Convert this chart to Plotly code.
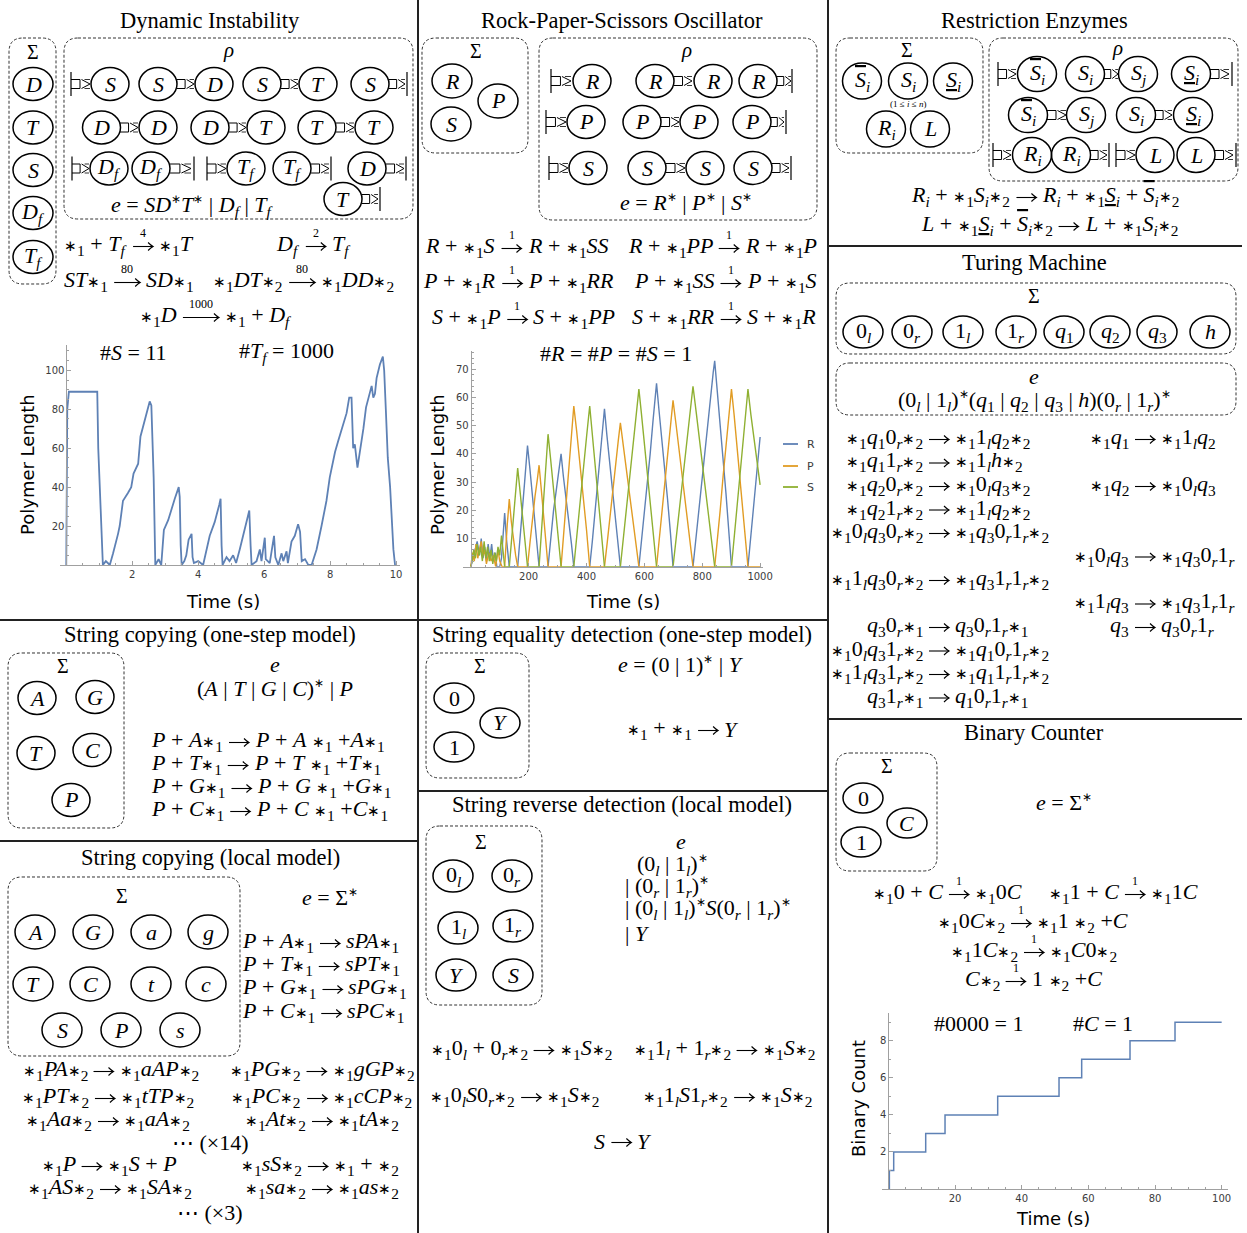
import re
import plotly.graph_objects as go

W, H = 1247, 1233
FIG_W = 1257
SERIF = "Liberation Serif"
SANS = "DejaVu Sans"
MS = 22
BLUE, ORANGE, GREEN = "#5E81B5", "#E19C24", "#8FB032"
AXC, TKC = "#a0a0a0", "#3c3c3c"

# ---------------- data ----------------
di_time = [0, 0.03, 0.08, 0.94, 0.97, 1.0, 1.05, 1.11, 1.2, 1.32,
           1.42, 1.52, 1.57, 1.62, 1.72, 1.87, 1.97, 2.04, 2.18, 2.25,
           2.38, 2.45, 2.53, 2.58, 2.61, 2.65, 2.70, 2.8, 2.88, 2.96,
           3.09, 3.19, 3.29, 3.41, 3.44, 3.47, 3.50, 3.58, 3.64, 3.71,
           3.80, 3.83, 3.87, 4.0, 4.15, 4.35, 4.50, 4.64, 4.68, 4.71,
           4.74, 4.86, 4.95, 5.06, 5.15, 5.26, 5.41, 5.55, 5.59, 5.62,
           5.77, 5.87, 5.92, 6.02, 6.05, 6.17, 6.30, 6.34, 6.43, 6.53,
           6.58, 6.68, 6.72, 6.83, 6.93, 7.03, 7.09, 7.14, 7.24, 7.34,
           7.44, 7.59, 7.74, 7.89, 7.99, 8.15, 8.25, 8.40, 8.50, 8.58,
           8.65, 8.70, 8.75, 8.83, 8.91, 9.01, 9.09, 9.19, 9.26, 9.31,
           9.36, 9.41, 9.51, 9.60, 9.64, 9.69, 9.75, 9.82, 9.87, 9.92,
           9.97]
di_length = [0, 80, 89, 89, 60, 45, 30, 0, 2, 0,
             6, 12, 16, 20, 33, 37, 40, 47, 52, 66,
             74, 78, 84, 82, 65, 45, 0, 3, 0, 18,
             23, 29, 34, 40, 35, 10, 0, 2, 5, 13,
             16, 4, 1, 2, 0, 15, 22, 31, 34, 10,
             0, 4, 2, 5, 1, 8, 19, 28, 10, 0,
             2, 8, 2, 14, 3, 1, 15, 4, 0, 6,
             2, 7, 1, 12, 15, 21, 17, 2, 3, 0,
             0, 8, 20, 33, 45, 58, 64, 73, 78, 86,
             86, 60, 62, 50, 58, 70, 81, 88, 92, 86,
             88, 96, 103, 107, 100, 80, 55, 40, 25, 8,
             0]

rps_time_R = [0, 8, 15, 22, 30, 36, 42, 48, 54, 60, 66, 72, 78, 84, 90, 100,
              106, 112, 117, 124, 133, 162, 170, 178, 186, 192, 196,
              204, 214, 222, 230, 236, 267, 276, 286, 294, 304, 312,
              320, 330, 340, 348, 356, 411, 420, 430, 440, 450, 456, 462,
              470, 480, 490, 500, 508, 517, 581, 590, 600, 610, 620, 630, 636, 642,
              650, 660, 670, 680, 690, 699, 768, 778, 790, 800, 812, 822, 832, 838, 843,
              852, 862, 872, 882, 892, 901, 958, 966, 975, 985, 993, 1000]
rps_R = [0, 3, 6, 9, 4, 10, 3, 7, 2, 8, 3, 8, 2, 5, 0, 0,
         3, 12, 19, 9, 0, 0, 9, 20, 30, 38, 43,
         35, 24, 17, 7, 0, 0, 10, 20, 26, 35, 40,
         32, 24, 16, 8, 0, 0, 9, 20, 32, 42, 50, 56,
         47, 37, 28, 18, 10, 0, 0, 9, 19, 29, 40, 52, 58, 65,
         56, 46, 36, 24, 12, 0, 0, 10, 22, 33, 45, 55, 63, 69, 73,
         63, 50, 38, 26, 13, 0, 0, 9, 18, 29, 38, 46]
rps_time_P = [0, 6, 12, 18, 24, 30, 36, 42, 48, 54, 62, 70, 78, 86, 94, 100, 108, 117,
              121, 126, 130, 133, 140, 148, 155, 162, 196, 205, 214, 222, 230, 236,
              244, 252, 260, 267, 312, 320, 330, 340, 348, 356, 366, 378, 390, 400, 411,
              462, 472, 482, 492, 502, 510, 517, 528, 540, 552, 562, 572, 581,
              642, 652, 662, 672, 682, 692, 699, 710, 722, 734, 746, 758, 768,
              843, 852, 862, 872, 882, 892, 901, 910, 920, 930, 940, 950, 958, 1000]
rps_P = [0, 5, 2, 8, 3, 6, 9, 4, 6, 1, 5, 2, 4, 0, 6, 2, 0, 0,
         8, 15, 20, 24, 16, 9, 4, 0, 0, 9, 18, 25, 31, 36,
         27, 18, 9, 0, 0, 10, 22, 35, 46, 57, 48, 36, 24, 13, 0,
         0, 9, 19, 29, 38, 45, 51, 42, 33, 24, 15, 7, 0,
         0, 10, 21, 32, 42, 52, 59, 50, 40, 29, 18, 8, 0,
         0, 9, 20, 32, 43, 54, 63, 54, 43, 33, 21, 10, 0, 0]
rps_time_S = [0, 5, 10, 16, 22, 28, 34, 40, 46, 52, 58, 64, 70, 76, 82, 88, 94, 100, 106, 112, 117, 133,
              140, 148, 155, 162, 170, 178, 188, 196, 236, 243, 250, 256, 262, 267,
              276, 286, 296, 304, 312, 356, 366, 378, 390, 400, 411, 420, 430, 440, 450, 462,
              517, 528, 540, 552, 562, 572, 581, 590, 600, 612, 622, 632, 642,
              699, 710, 722, 734, 746, 758, 768, 780, 792, 804, 816, 830, 843,
              901, 910, 920, 930, 940, 950, 958, 968, 978, 988, 1000]
rps_S = [0, 2, 6, 3, 8, 4, 7, 2, 9, 3, 7, 2, 6, 1, 5, 2, 7, 4, 11, 5, 0, 0,
         8, 17, 27, 35, 27, 19, 9, 0, 0, 10, 21, 30, 40, 47,
         38, 28, 18, 9, 0, 0, 11, 23, 35, 46, 57, 47, 36, 25, 14, 0,
         0, 11, 23, 36, 46, 55, 63, 54, 44, 31, 21, 11, 0,
         0, 10, 21, 33, 44, 55, 64, 54, 44, 33, 23, 12, 0,
         0, 10, 20, 31, 42, 53, 63, 54, 46, 37, 29]
rps_series = ["R", "P", "S"]

bc_time = [0, 0.3, 1.6, 11.2, 17.0, 32.8, 51.2, 58.0, 72.5, 86.0, 100]
bc_count = [0, 1, 2, 3, 4, 5, 6, 7, 8, 9, 9]

di_xticks = [2, 4, 6, 8, 10]
di_yticks = [20, 40, 60, 80, 100]
rps_xticks = [200, 400, 600, 800, 1000]
rps_yticks = [10, 20, 30, 40, 50, 60, 70]
bc_xticks = [20, 40, 60, 80, 100]
bc_yticks = [2, 4, 6, 8]

# ---------------- drawing helpers ----------------
ann, shp = [], []


def X(p):
    return p / W


def Y(p):
    return 1 - p / H


def text(x, y, s, size=MS, anchor="center", family=SERIF, color="black", angle=0):
    ann.append(dict(x=X(x), y=Y(y), xref="paper", yref="paper", text=s, showarrow=False,
                    xanchor=anchor, yanchor="middle", textangle=angle,
                    font=dict(family=family, size=size, color=color)))


CW = {'A': .611, 'B': .611, 'C': .667, 'D': .722, 'E': .611, 'F': .611, 'G': .722, 'H': .722, 'I': .333,
      'L': .556, 'M': .833, 'N': .667, 'P': .611, 'R': .611, 'S': .5, 'T': .556, 'Y': .556,
      'a': .5, 'c': .444, 'e': .444, 'f': .278, 'g': .5, 'h': .5, 'i': .278, 'j': .278, 'l': .278,
      'n': .5, 'q': .5, 'r': .389, 's': .389, 't': .278, ' ': .25, '\u00a0': .25, '+': .675, '=': .675,
      '|': .2, '(': .333, ')': .333, '#': .5, 'Σ': .6, '⋯': 1.0, '×': .564, '∗': .838}


def est_width(html, size):
    w, stack = 0.0, [size]
    for tok in re.findall(r'<[^>]+>|[^<]', html):
        if tok.startswith('</'):
            if len(stack) > 1:
                stack.pop()
        elif tok.startswith('<'):
            cur = stack[-1]
            m = re.search(r'font-size:\s*([\d.]+)px', tok)
            if tok.startswith('<sub') or tok.startswith('<sup'):
                cur = cur * 0.7
            elif m:
                cur = float(m.group(1))
            stack.append(cur)
        else:
            w += CW.get(tok, 0.5) * stack[-1]
    return w


def pstr(cmds):
    out = []
    for c in cmds:
        k, nums = c[0], c[1:]
        pts = [f"{X(nums[i]):.5f},{Y(nums[i + 1]):.5f}" for i in range(0, len(nums), 2)]
        out.append(k + " ".join(pts))
    return " ".join(out)


def path(cmds, width=1.2, color="black", dash="solid"):
    shp.append(dict(type="path", xref="paper", yref="paper", path=pstr(cmds),
                    line=dict(color=color, width=width, dash=dash)))


def line(x0, y0, x1, y1, width=1.2, color="black"):
    shp.append(dict(type="line", xref="paper", yref="paper", x0=X(x0), y0=Y(y0), x1=X(x1), y1=Y(y1),
                    line=dict(color=color, width=width)))


def rbox(x0, y0, x1, y1, r=13):
    path([("M", x0 + r, y0), ("L", x1 - r, y0), ("Q", x1, y0, x1, y0 + r), ("L", x1, y1 - r),
          ("Q", x1, y1, x1 - r, y1), ("L", x0 + r, y1), ("Q", x0, y1, x0, y1 - r), ("L", x0, y0 + r),
          ("Q", x0, y0, x0 + r, y0), ("Z",)], width=1, color="#333333", dash="3px,2px")


def circ(x, y, label, rx=19, ry=16.5, size=MS):
    shp.append(dict(type="circle", xref="paper", yref="paper", x0=X(x - rx), x1=X(x + rx),
                    y0=Y(y + ry), y1=Y(y - ry), line=dict(color="black", width=1.5)))
    text(x, y, label, size)


def cap(x, y, h=12):
    line(x, y - h, x, y + h, 1.2)


def link(xa, xb, y):
    m = xa + (xb - xa) * 0.45
    path([("M", xa, y - 4.5), ("L", m, y - 4.5), ("L", m, y + 4.5), ("L", xa, y + 4.5)], 1.0)
    path([("M", m + 1.5, y - 4.5), ("L", xb - 1, y), ("L", m + 1.5, y + 4.5)], 1.0)
    path([("M", m + 4.5, y - 4.5), ("L", xb - 1, y - 4.5), ("M", m + 4.5, y + 4.5), ("L", xb - 1, y + 4.5)], 0.8)


def arrow(x0, x1, y):
    path([("M", x0, y), ("L", x1, y)], 1.1)
    path([("M", x1 - 5, y - 4), ("Q", x1 - 2, y - 1, x1, y), ("Q", x1 - 2, y + 1, x1 - 5, y + 4)], 1.1)


def rxn(y, left, right, label=None, center=None, start=None, ax_=None, w=20, size=MS, gap=4):
    wl, wr = est_width(left, size), est_width(right, size)
    if ax_ is None:
        total = wl + wr + w + 2 * gap
        s = center - total / 2 if center is not None else start
        ax_ = s + wl + gap + w / 2
    text(ax_ - w / 2 - gap, y, left, size, "right")
    text(ax_ + w / 2 + gap, y, right, size, "left")
    arrow(ax_ - w / 2, ax_ + w / 2, y + 1.5)
    if label:
        text(ax_, y - 12, label, 12)


def I(s):
    return f"<i>{s}</i>"


AST = '<span style="font-size:15px">∗</span>'
s1 = AST + "<sub>1</sub>"
s2 = AST + "<sub>2</sub>"
st = '<sup><span style="font-size:12px">∗</span></sup>'
Df = "<i>D</i><sub><i>f</i></sub>"
Tf = "<i>T</i><sub><i>f</i></sub>"
Si = "<i>S</i><sub><i>i</i></sub>"
Sj = "<i>S</i><sub><i>j</i></sub>"
Sbar = '<span style="text-decoration:overline"><i>S</i></span><sub><i>i</i></sub>'
Sund = '<span style="text-decoration:underline"><i>S</i></span><sub><i>i</i></sub>'
Ri = "<i>R</i><sub><i>i</i></sub>"
l_ = "<sub><i>l</i></sub>"
r_ = "<sub><i>r</i></sub>"
q1, q2, q3 = "<i>q</i><sub>1</sub>", "<i>q</i><sub>2</sub>", "<i>q</i><sub>3</sub>"
TS = 22.5

# ---------------- panel dividers ----------------
line(418, 0, 418, H, 2, "#222")
line(828, 0, 828, H, 2, "#222")
line(0, 620, 828, 620, 2, "#222")
line(0, 841, 418, 841, 2, "#222")
line(418, 791, 828, 791, 2, "#222")
line(828, 246, 1242, 246, 2, "#222")
line(828, 719, 1242, 719, 2, "#222")

# ---------------- Dynamic Instability ----------------
text(210, 20, "Dynamic Instability", TS)
rbox(9, 38, 56, 284, 14)
text(33, 52, "Σ", 20)
for lab, yy in [(I("D"), 84), (I("T"), 127.5), (I("S"), 170), (Df, 213), (Tf, 257)]:
    circ(33, yy, lab, 20, 16.5)
rbox(64, 38, 413, 219, 14)
text(228, 50, I("ρ"), 21)
cap(71, 84); link(71, 91, 84)
for xx, lab in [(110, "S"), (158, "S"), (214, "D"), (262, "S"), (318, "T"), (370, "S")]:
    circ(xx, 84, I(lab))
link(177, 195, 84); link(281, 299, 84); link(389, 406, 84); cap(407, 84)
for xx, lab in [(101.5, "D"), (158, "D"), (210, "D"), (266, "T"), (317, "T"), (374, "T")]:
    circ(xx, 127.5, I(lab))
link(120, 139, 127.5); link(229, 247, 127.5); link(336, 355, 127.5)
cap(72, 168.5); link(72, 90, 168.5)
circ(109, 168.5, Df); circ(151, 168.5, Df); link(170, 192, 168.5); cap(194, 168.5)
cap(207, 168.5); link(207, 227, 168.5)
circ(246, 168.5, Tf); circ(292, 168.5, Tf); link(311, 330, 168.5); cap(331, 168.5)
circ(367, 168.5, I("D")); link(386, 405, 168.5); cap(406, 168.5)
circ(343, 199, I("T")); link(362, 379, 199); cap(380, 199)
text(192, 206, f"{I('e')} = {I('SD')}{st}{I('T')}{st} | {Df} | {Tf}", MS)
rxn(245, f"{s1} + {Tf}", f"{s1}{I('T')}", "4", center=128)
rxn(245, Df, Tf, "2", center=314)
rxn(281, f"{I('ST')}{s1}", f"{I('SD')}{s1}", "80", center=129, w=26)
rxn(281, f"{s1}{I('DT')}{s2}", f"{s1}{I('DD')}{s2}", "80", center=304, w=26)
rxn(316, f"{s1}{I('D')}", f"{s1} + {Df}", "1000", center=216, w=36)
text(133, 352, f"#{I('S')} = 11", MS)
text(286, 352, f"#{Tf} = 1000", MS)
text(27, 465, "Polymer Length", 18, family=SANS, angle=-90)
text(223, 601, "Time (s)", 18, family=SANS)

# ---------------- Rock-Paper-Scissors ----------------
text(622, 20, "Rock-Paper-Scissors Oscillator", TS)
rbox(422, 38, 528, 153, 14)
text(476, 51, "Σ", 20)
circ(452, 81, I("R"), 20, 17); circ(498, 101, I("P"), 20, 17); circ(451, 124, I("S"), 20, 17)
rbox(539, 38, 817, 220, 14)
text(686, 50, I("ρ"), 21)
cap(551, 81); link(551, 572, 81)
for xx in [592, 655, 713, 758]:
    circ(xx, 81, I("R"))
link(674, 693, 81); link(777, 792, 81); cap(792, 81)
cap(546, 122); link(546, 567, 122)
for xx in [586, 642, 699, 752]:
    circ(xx, 122, I("P"))
link(661, 680, 122); link(771, 785, 122); cap(786, 122)
cap(549, 168); link(549, 569, 168)
for xx in [588, 647, 705, 753]:
    circ(xx, 168, I("S"))
link(666, 686, 168); link(772, 790, 168); cap(791, 168)
text(686, 203, f"{I('e')} = {I('R')}{st} | {I('P')}{st} | {I('S')}{st}", MS)
rxn(247, f"{I('R')} + {s1}{I('S')}", f"{I('R')} + {s1}{I('SS')}", "1", center=517)
rxn(247, f"{I('R')} + {s1}{I('PP')}", f"{I('R')} + {s1}{I('P')}", "1", center=722)
rxn(282, f"{I('P')} + {s1}{I('R')}", f"{I('P')} + {s1}{I('RR')}", "1", center=519)
rxn(282, f"{I('P')} + {s1}{I('SS')}", f"{I('P')} + {s1}{I('S')}", "1", center=725)
rxn(318, f"{I('S')} + {s1}{I('P')}", f"{I('S')} + {s1}{I('PP')}", "1", center=524)
rxn(318, f"{I('S')} + {s1}{I('RR')}", f"{I('S')} + {s1}{I('R')}", "1", center=724)
text(616, 353, f"#{I('R')} = #{I('P')} = #{I('S')} = 1", MS)
text(437, 465, "Polymer Length", 18, family=SANS, angle=-90)
text(623, 601, "Time (s)", 18, family=SANS)
for yy, col, lab in [(444, BLUE, rps_series[0]), (466, ORANGE, rps_series[1]), (487, GREEN, rps_series[2])]:
    line(783, yy, 798, yy, 1.8, col)
    text(805, yy, lab, 11, "left", SANS, TKC)

# ---------------- Restriction Enzymes ----------------
text(1034, 20, "Restriction Enzymes", TS)
rbox(836, 38, 983, 153, 14)
text(907, 50, "Σ", 20)
circ(862, 81, Sbar, 19.5, 18); circ(908, 81, Si, 19.5, 18); circ(953, 81, Sund, 19.5, 18)
text(908, 104, f"(1 ≤ {I('i')} ≤ {I('n')})", 9)
circ(886, 129, Ri, 19.5, 18); circ(930, 129, I("L"), 19.5, 18)
rbox(989, 38, 1238, 181, 14)
text(1117, 48, I("ρ"), 21)
cap(998, 74); link(998, 1017, 74); circ(1037, 74, Sbar, 19.5, 17.5)
circ(1085, 74, Si, 19.5, 17.5); link(1104, 1119, 74); circ(1138, 74, Sj, 19.5, 17.5)
circ(1191, 74, Sund, 19.5, 17.5); link(1210, 1230, 74); cap(1232, 74)
circ(1028, 115, Sbar, 19.5, 17.5); link(1047, 1067, 115); circ(1086, 115, Sj, 19.5, 17.5)
circ(1136, 115, Si, 19.5, 17.5); link(1155, 1173, 115); circ(1193, 115, Sund, 19.5, 17.5)
cap(993, 155); link(993, 1012, 155); circ(1032, 155, Ri, 19.5, 17.5); circ(1071, 155, Ri, 19.5, 17.5)
link(1090, 1108, 155); cap(1109, 155)
cap(1116, 155); link(1116, 1136, 155); circ(1155, 155, I("L"), 19, 17.5); circ(1196, 155, I("L"), 19, 17.5)
link(1215, 1234, 155); cap(1236, 155)
rxn(196, f"{Ri} + {s1}{Si}{s2}", f"{Ri} + {s1}{Sund} + {Sbar}{s2}", center=1047)
rxn(225, f"{I('L')} + {s1}{Sund} + {Sbar}{s2}", f"{I('L')} + {s1}{Si}{s2}", center=1048)

# ---------------- Turing Machine ----------------
text(1034, 262, "Turing Machine", TS)
rbox(836, 283, 1236, 354, 14)
text(1034, 296, "Σ", 20)
for xx, lab in zip([863, 912, 963, 1016, 1064, 1110, 1157, 1210],
                   ["0" + l_, "0" + r_, "1" + l_, "1" + r_, q1, q2, q3, I("h")]):
    circ(xx, 332, lab, 20, 16)
rbox(836, 363, 1236, 415, 14)
text(1034, 376, I("e"), MS)
text(1034, 401, f"(0{l_} | 1{l_}){st}({q1} | {q2} | {q3} | {I('h')})(0{r_} | 1{r_}){st}", MS)
TL, TR = 939, 1145
tm_left = [
    (438, f"{s1}{q1}0{r_}{s2}", f"{s1}1{l_}{q2}{s2}"),
    (461.5, f"{s1}{q1}1{r_}{s2}", f"{s1}1{l_}{I('h')}{s2}"),
    (485, f"{s1}{q2}0{r_}{s2}", f"{s1}0{l_}{q3}{s2}"),
    (508.5, f"{s1}{q2}1{r_}{s2}", f"{s1}1{l_}{q2}{s2}"),
    (532, f"{s1}0{l_}{q3}0{r_}{s2}", f"{s1}{q3}0{r_}1{r_}{s2}"),
    (579, f"{s1}1{l_}{q3}0{r_}{s2}", f"{s1}{q3}1{r_}1{r_}{s2}"),
    (626, f"{q3}0{r_}{s1}", f"{q3}0{r_}1{r_}{s1}"),
    (649.5, f"{s1}0{l_}{q3}1{r_}{s2}", f"{s1}{q1}0{r_}1{r_}{s2}"),
    (673, f"{s1}1{l_}{q3}1{r_}{s2}", f"{s1}{q1}1{r_}1{r_}{s2}"),
    (696.5, f"{q3}1{r_}{s1}", f"{q1}0{r_}1{r_}{s1}"),
]
for yy, a, b in tm_left:
    rxn(yy, a, b, ax_=TL)
tm_right = [
    (438, f"{s1}{q1}", f"{s1}1{l_}{q2}"),
    (485, f"{s1}{q2}", f"{s1}0{l_}{q3}"),
    (555.5, f"{s1}0{l_}{q3}", f"{s1}{q3}0{r_}1{r_}"),
    (602.5, f"{s1}1{l_}{q3}", f"{s1}{q3}1{r_}1{r_}"),
    (626, f"{q3}", f"{q3}0{r_}1{r_}"),
]
for yy, a, b in tm_right:
    rxn(yy, a, b, ax_=TR)

# ---------------- Binary Counter ----------------
text(1034, 732, "Binary Counter", TS)
rbox(836, 753, 937, 871, 14)
text(887, 766, "Σ", 20)
circ(863, 798, "0", 20, 15); circ(907, 823, I("C"), 20, 15); circ(861, 842, "1", 20, 15)
text(1064, 802, f"{I('e')} = Σ{st}", MS)
rxn(893, f"{s1}0 + {I('C')}", f"{s1}0{I('C')}", "1", center=946)
rxn(893, f"{s1}1 + {I('C')}", f"{s1}1{I('C')}", "1", center=1122)
rxn(922, f"{s1}0{I('C')}{s2}", f"{s1}1 {s2} +{I('C')}", "1", center=1034)
rxn(951, f"{s1}1{I('C')}{s2}", f"{s1}{I('C')}0{s2}", "1", center=1034)
rxn(980, f"{I('C')}{s2}", f"1 {s2} +{I('C')}", "1", center=1034)
text(978, 1023, "#0000 = 1", MS)
text(1103, 1023, f"#{I('C')} = 1", MS)
text(858, 1099, "Binary Count", 18, family=SANS, angle=-90)
text(1053, 1218, "Time (s)", 18, family=SANS)

# ---------------- String copying (one-step) ----------------
text(210, 634, "String copying (one-step model)", TS)
rbox(8, 653, 124, 828, 14)
text(63, 666, "Σ", 20)
for xx, yy, lab in [(37, 698, "A"), (95, 697, "G"), (36, 753, "T"), (92, 750, "C"), (71, 800, "P")]:
    circ(xx, yy, I(lab))
text(275, 664, I("e"), MS)
text(275, 688, f"({I('A')} | {I('T')} | {I('G')} | {I('C')}){st} | {I('P')}", MS)
for yy, b in zip([741, 764, 787, 810], ["A", "T", "G", "C"]):
    rxn(yy, f"{I('P')} + {I(b)}{s1}", f"{I('P')} + {I(b)} {s1} +{I(b)}{s1}", start=152)

# ---------------- String copying (local) ----------------
text(210, 857, "String copying (local model)", TS)
rbox(8, 877, 240, 1056, 14)
text(122, 896, "Σ", 20)
for xx, yy, lab in [(35, 932, "A"), (93, 932, "G"), (151, 932, "a"), (208, 932, "g"),
                    (33, 984, "T"), (90, 984, "C"), (151, 984, "t"), (206, 984, "c"),
                    (62, 1030, "S"), (121, 1030, "P"), (180, 1030, "s")]:
    circ(xx, yy, I(lab), 20, 17)
text(330, 897, f"{I('e')} = Σ{st}", MS)
for yy, b in zip([942, 965, 988, 1012], ["A", "T", "G", "C"]):
    rxn(yy, f"{I('P')} + {I(b)}{s1}", f"{I('sP' + b)}{s1}", start=243)
rxn(1070, f"{s1}{I('PA')}{s2}", f"{s1}{I('aAP')}{s2}", center=109)
rxn(1070, f"{s1}{I('PG')}{s2}", f"{s1}{I('gGP')}{s2}", center=322)
rxn(1097, f"{s1}{I('PT')}{s2}", f"{s1}{I('tTP')}{s2}", center=108)
rxn(1097, f"{s1}{I('PC')}{s2}", f"{s1}{I('cCP')}{s2}", center=322)
rxn(1120, f"{s1}{I('Aa')}{s2}", f"{s1}{I('aA')}{s2}", center=108)
rxn(1120, f"{s1}{I('At')}{s2}", f"{s1}{I('tA')}{s2}", center=322)
text(210, 1142, "⋯ (×14)", MS)
rxn(1165, f"{s1}{I('P')}", f"{s1}{I('S')} + {I('P')}", center=110)
rxn(1165, f"{s1}{I('sS')}{s2}", f"{s1} + {s2}", center=321)
rxn(1188, f"{s1}{I('AS')}{s2}", f"{s1}{I('SA')}{s2}", center=110)
rxn(1188, f"{s1}{I('sa')}{s2}", f"{s1}{I('as')}{s2}", center=322)
text(210, 1212, "⋯ (×3)", MS)

# ---------------- String equality detection ----------------
text(622, 634, "String equality detection (one-step model)", TS)
rbox(426, 653, 529, 778, 14)
text(480, 666, "Σ", 20)
circ(454, 698, "0", 20, 15); circ(500, 723, I("Y"), 20, 15); circ(454, 747, "1", 20, 15)
text(681, 664, f"{I('e')} = (0 | 1){st} | {I('Y')}", MS)
rxn(729, f"{s1} + {s1}", I("Y"), center=681)

# ---------------- String reverse detection ----------------
text(622, 804, "String reverse detection (local model)", TS)
rbox(426, 826, 542, 1005, 14)
text(481, 842, "Σ", 20)
for xx, yy, lab in [(453, 876, "0" + l_), (512, 876, "0" + r_), (458, 928, "1" + l_), (513, 926, "1" + r_),
                    (456, 975, I("Y")), (513, 975, I("S"))]:
    circ(xx, yy, lab, 20, 16)
text(681, 841, I("e"), MS)
text(635, 865, f"(0{l_} | 1{l_}){st}", MS, "left")
text(623, 887, f"| (0{r_} | 1{r_}){st}", MS, "left")
text(623, 909, f"| (0{l_} | 1{l_}){st}{I('S')}(0{r_} | 1{r_}){st}", MS, "left")
text(623, 933, f"| {I('Y')}", MS, "left")
rxn(1049, f"{s1}0{l_} + 0{r_}{s2}", f"{s1}{I('S')}{s2}", center=520)
rxn(1049, f"{s1}1{l_} + 1{r_}{s2}", f"{s1}{I('S')}{s2}", center=723)
rxn(1096, f"{s1}0{l_}{I('S')}0{r_}{s2}", f"{s1}{I('S')}{s2}", center=515)
rxn(1096, f"{s1}1{l_}{I('S')}1{r_}{s2}", f"{s1}{I('S')}{s2}", center=728)
rxn(1141, I("S"), I("Y"), center=622)

# ---------------- plots ----------------
fig = go.Figure()
fig.add_trace(go.Scatter(x=di_time, y=di_length, mode="lines", line=dict(color=BLUE, width=1.8),
                         xaxis="x", yaxis="y", showlegend=False))
for tt, vv, col in [(rps_time_R, rps_R, BLUE), (rps_time_P, rps_P, ORANGE), (rps_time_S, rps_S, GREEN)]:
    fig.add_trace(go.Scatter(x=tt, y=vv, mode="lines", line=dict(color=col, width=1.4),
                             xaxis="x2", yaxis="y2", showlegend=False))
fig.add_trace(go.Scatter(x=bc_time, y=bc_count, mode="lines", line=dict(color=BLUE, width=1.5, shape="hv"),
                         xaxis="x3", yaxis="y3", showlegend=False))


def minor_vals(lo, hi, step, majors):
    vals, v = [], lo
    while v <= hi + 1e-9:
        if all(abs(v - m) > 1e-6 for m in majors):
            vals.append(round(v, 6))
        v += step
    return vals


def ax(domain, rng, ticks, minors, **kw):
    d = dict(domain=domain, range=rng, showline=True, linecolor=AXC, linewidth=1, ticks="inside",
             ticklen=4, tickcolor=AXC, tickwidth=1, tickmode="array", tickvals=ticks,
             tickfont=dict(family=SANS, size=10, color=TKC), showgrid=False, zeroline=False,
             minor=dict(ticks="inside", ticklen=2, tickcolor=AXC, tickmode="array", tickvals=minors,
                        showgrid=False), fixedrange=True)
    d.update(kw)
    return d


fig.update_layout(
    width=FIG_W, height=H, margin=dict(l=0, r=0, t=0, b=0), autosize=False,
    paper_bgcolor="white", plot_bgcolor="rgba(0,0,0,0)", showlegend=False,
    xaxis=ax([X(60), X(400)], [-0.19, 10.12], di_xticks, minor_vals(0, 10, 0.5, di_xticks + [0]), anchor="y"),
    yaxis=ax([Y(565), Y(345)], [0, 113], di_yticks, minor_vals(0, 110, 5, di_yticks + [0]),
             anchor="free", position=X(66.4)),
    xaxis2=ax([X(463), X(763)], [-27, 1010], rps_xticks, minor_vals(0, 1000, 50, rps_xticks + [0]),
              anchor="y2"),
    yaxis2=ax([Y(566.7), Y(351)], [0, 76.5], rps_yticks, minor_vals(0, 76, 2, rps_yticks + [0]),
              anchor="free", position=X(470.7)),
    xaxis3=ax([X(881.7), X(1228)], [-2, 101.9], bc_xticks, minor_vals(0, 100, 5, bc_xticks + [0]),
              anchor="y3"),
    yaxis3=ax([Y(1189), Y(1013)], [0, 9.5], bc_yticks, minor_vals(0, 9, 1, bc_yticks + [0]),
              anchor="free", position=X(888.3)),
    annotations=ann, shapes=shp,
)

fig.write_html("out.html", config={"displayModeBar": False, "responsive": False},
               post_script="document.documentElement.style.overflow='hidden';"
                           "document.body.style.margin='0px';document.body.style.overflow='hidden';")
